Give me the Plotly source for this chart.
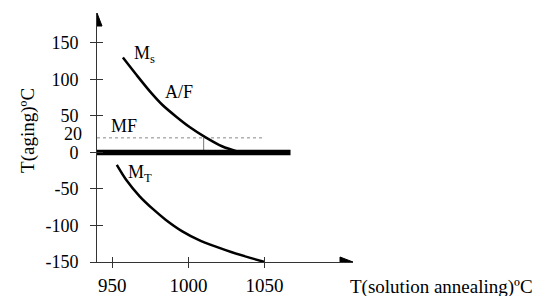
import plotly.graph_objects as go

# ---- data ----
ms_x = [957, 966, 975, 983, 992, 1001, 1011, 1022, 1034]
ms_y = [130, 106, 83, 65, 49, 34.5, 21, 8.5, 0]
mt_x = [953, 959, 968, 977, 985, 996, 1007, 1018, 1029, 1040, 1050]
mt_y = [-17, -37, -60, -78, -92, -108, -120, -129, -137, -144, -150]
zero_x = [940, 1067]
zero_y = [0, 0]
mf_x = [940, 1049]
mf_y = [20, 20]
vline_x = [1010, 1010]
vline_y = [0, 20]
x_ticks = [950, 1000, 1050]
y_ticks = [150, 100, 50, 0, -50, -100, -150]
y_extra_tick = 20
labels = [("M<sub>s</sub>", 971, 134), ("A/F", 994, 83), ("MF", 958, 36), ("M<sub>T</sub>", 968, -29)]
x_title = "T(solution annealing)ºC"
y_title = "T(aging)ºC"

FONT = "Liberation Serif, serif"
TICKFONT = dict(family=FONT, size=18, color="black")

fig = go.Figure()
fig.add_trace(go.Scatter(x=mf_x, y=mf_y, mode="lines",
                         line=dict(color="#888888", width=1, dash="dot"), hoverinfo="skip"))
fig.add_trace(go.Scatter(x=vline_x, y=vline_y, mode="lines",
                         line=dict(color="#777777", width=1), hoverinfo="skip"))
fig.add_trace(go.Scatter(x=zero_x, y=zero_y, mode="lines",
                         line=dict(color="black", width=5.5), hoverinfo="skip"))
fig.add_trace(go.Scatter(x=ms_x, y=ms_y, mode="lines",
                         line=dict(color="black", width=2.5, shape="spline", smoothing=0.8),
                         hoverinfo="skip"))
fig.add_trace(go.Scatter(x=mt_x, y=mt_y, mode="lines",
                         line=dict(color="black", width=2.5, shape="spline", smoothing=0.8),
                         hoverinfo="skip"))

for txt, lx, ly in labels:
    fig.add_annotation(x=lx, y=ly, text=txt, showarrow=False,
                       font=dict(family=FONT, size=18, color="black"))

fig.add_annotation(x=0, xref="x domain", xanchor="right", y=y_extra_tick, yref="y",
                   text=str(y_extra_tick), showarrow=False, xshift=-13, yshift=4,
                   font=TICKFONT)

fig.add_annotation(x=0.98, xref="paper", xanchor="left", y=-0.1, yref="paper", yanchor="middle",
                   text=x_title, showarrow=False,
                   font=dict(family=FONT, size=19, color="black"))
fig.add_annotation(x=-0.27, xref="paper", xanchor="center", y=0.53, yref="paper", yanchor="middle",
                   text=y_title, textangle=-90,
                   showarrow=False, font=dict(family=FONT, size=19, color="black"))

# arrow heads
fig.add_shape(type="path", xref="x", yref="y", xsizemode="pixel", ysizemode="pixel",
              xanchor=1108, yanchor=-150, path="M 0,0 L -13,5 L -13,-5 Z",
              fillcolor="black", line=dict(color="black", width=1))
fig.add_shape(type="path", xref="x", yref="y", xsizemode="pixel", ysizemode="pixel",
              xanchor=940, yanchor=191, path="M 0,0 L -5,-13 L 5,-13 Z",
              fillcolor="black", line=dict(color="black", width=1))

fig.update_layout(
    width=543, height=296,
    margin=dict(l=97, r=190, t=13, b=34, autoexpand=False),
    plot_bgcolor="white", paper_bgcolor="white",
    showlegend=False,
    font=dict(family=FONT, size=19, color="black"),
    xaxis=dict(range=[940, 1108], tickvals=x_ticks, ticktext=[str(v) for v in x_ticks],
               tickfont=dict(family=FONT, size=19, color="black"), automargin=False,
               showgrid=False, zeroline=False, showline=True, linecolor="#333", linewidth=1,
               ticks="outside", ticklen=5, tickcolor="#333", ticklabelstandoff=1,
               minor=dict(tickvals=x_ticks, ticks="inside", ticklen=5, tickcolor="#333"),
               fixedrange=True),
    yaxis=dict(range=[-150, 191], tickvals=y_ticks, ticktext=[str(v) for v in y_ticks],
               tickfont=TICKFONT, automargin=False,
               showgrid=False, zeroline=False, showline=True, linecolor="#333", linewidth=1,
               ticks="outside", ticklen=6, tickcolor="#333", ticklabelstandoff=8,
               minor=dict(tickvals=y_ticks, ticks="inside", ticklen=6, tickcolor="#333"),
               fixedrange=True),
)

fig.write_html("out.html", config={"displayModeBar": False},
               post_script="document.body.style.margin='0px';")
